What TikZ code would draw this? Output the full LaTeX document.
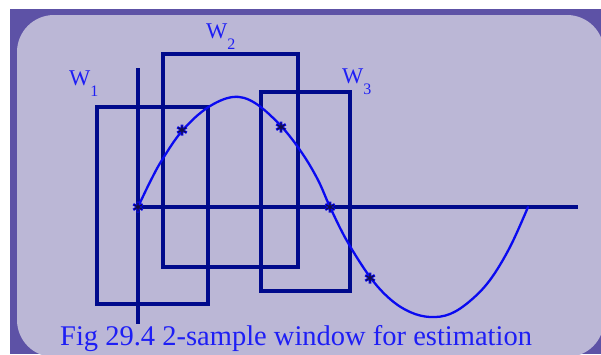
\documentclass[tikz,border=0pt]{standalone}
\usepackage{fontspec}
\setmainfont{Liberation Serif}
\definecolor{frameC}{HTML}{5D52A6}
\definecolor{panelC}{HTML}{BBB7D6}
\definecolor{navyC}{HTML}{000A8C}
\definecolor{curveC}{HTML}{0A0AF0}
\definecolor{txtC}{HTML}{1E1EF5}
\definecolor{astC}{HTML}{141040}
\newcommand\wsub[1]{\raisebox{-11pt}{\fontsize{16}{16}\selectfont #1}}
\tikzset{
  winbox/.style={draw=navyC, line width=3.2pt},
  axisline/.style={draw=navyC, line width=3.2pt},
  sinecurve/.style={draw=curveC, line width=2.3pt, line cap=round},
  wlab/.style={text=txtC, font=\fontsize{22.5}{22.5}\selectfont, anchor=base west, inner sep=0pt},
  caplab/.style={text=txtC, font=\fontsize{28.5}{28.5}\selectfont, anchor=base west, inner sep=0pt},
  ast/.pic={
    \draw[curveC, line width=2.6pt] (90:5.5) -- (270:5.5) (30:5.5) -- (210:5.5) (150:5.5) -- (330:5.5);
    \draw[astC, line width=1.2pt] (90:4.5) -- (270:4.5) (30:4.5) -- (210:4.5) (150:4.5) -- (330:4.5);
  }
}
\begin{document}
\begin{tikzpicture}[x=1pt,y=-1pt]
\useasboundingbox (0,0) rectangle (601,354);
\fill[white] (0,0) rectangle (601,354);
\fill[frameC] (10,9) rectangle (601,354);
\fill[panelC, rounded corners=37pt] (17,15) rectangle (604,357);

% windows
\draw[winbox] (97,107) rectangle (208,304);
\draw[winbox] (163,54) rectangle (298,267);
\draw[winbox] (261,92) rectangle (350,291);

% axes
\coordinate (o) at (138,207);
\coordinate (xend) at (578,207);
\coordinate (ytop) at (138,68);
\coordinate (ybot) at (138,324);
\draw[axisline] (o) -- (xend);
\draw[axisline] (ytop) -- (ybot);

% curve
\draw[sinecurve] plot[smooth, tension=0.6] coordinates {
 (138,207) (150,182) (162,160) (182,131) (207,108) (233,97) (255,103)
 (281,126) (302,153) (318,180) (330,207) (347,241) (370,277) (390,299)
 (410,312) (430,317) (450,314) (470,301) (490,280) (510,247) (528,207)};

% samples
\coordinate (s1) at (138,207);
\coordinate (s2) at (182,130);
\coordinate (s3) at (281,127);
\coordinate (s4) at (330,207);
\coordinate (s5) at (370,278);
\foreach \p in {s1,s2,s3,s4,s5} \pic at (\p) {ast};

% labels
\node[wlab] (w1) at (69,85) {W\wsub{1}};
\node[wlab] (w2) at (206,38) {W\wsub{2}};
\node[wlab] (w3) at (342,83) {W\wsub{3}};
\node[caplab] (cap) at (60,345) {Fig 29.4 2-sample window for estimation};
\end{tikzpicture}
\end{document}
